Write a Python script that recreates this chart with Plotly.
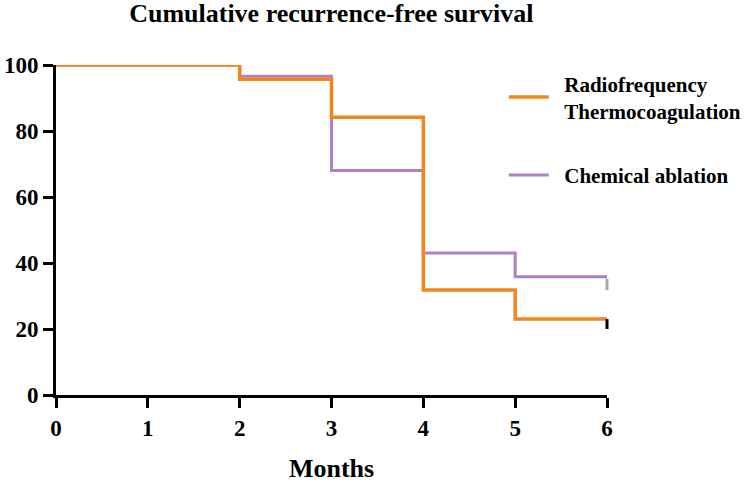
import plotly.graph_objects as go

months = [0, 2, 3, 4, 5, 6]
rf_survival = [100, 95.7, 84.2, 31.8, 23, 23]
chem_survival = [100, 96.6, 68, 43, 35.8, 35.8]
censor_month = [6]
rf_censor = [21.5]
chem_censor = [33.5]
x_ticks = [0, 1, 2, 3, 4, 5, 6]
y_ticks = [0, 20, 40, 60, 80, 100]

FONT = "Liberation Serif"
ORANGE = "#F5841F"
PURPLE = "#B07FC4"
PAD = "&nbsp;&nbsp;"

fig = go.Figure()
fig.add_trace(go.Scatter(x=months, y=chem_survival, mode="lines", line_shape="hv",
                         line=dict(color=PURPLE, width=3),
                         name=f"<b>{PAD}Chemical ablation</b>",
                         legendgroup="b", legendrank=2, cliponaxis=True))
fig.add_trace(go.Scatter(x=months, y=rf_survival, mode="lines", line_shape="hv",
                         line=dict(color=ORANGE, width=3.5),
                         name=f"<b>{PAD}Radiofrequency<br>{PAD}Thermocoagulation</b>",
                         legendgroup="a", legendrank=1, cliponaxis=True))
fig.add_trace(go.Scatter(x=censor_month, y=rf_censor, mode="markers",
                         marker=dict(symbol="line-ns", size=7,
                                     line=dict(color="black", width=3)),
                         showlegend=False, cliponaxis=False))
fig.add_trace(go.Scatter(x=censor_month, y=chem_censor, mode="markers",
                         marker=dict(symbol="line-ns", size=8,
                                     line=dict(color="#A8A8A8", width=3)),
                         showlegend=False, cliponaxis=False))

fig.update_layout(
    width=753, height=483,
    margin=dict(l=56, r=146, t=65, b=88, autoexpand=False),
    plot_bgcolor="white", paper_bgcolor="white",
    font=dict(family=FONT, color="black", size=23),
    title=dict(text="<b>Cumulative recurrence-free survival</b>", x=0.44, xanchor="center",
               y=1 - 13 / 483, yanchor="middle", font=dict(size=26, family=FONT)),
    showlegend=True,
    legend=dict(x=0.669, y=0.869, xref="container", yref="container",
                xanchor="left", yanchor="top", bgcolor="rgba(0,0,0,0)",
                font=dict(size=21, family=FONT), tracegroupgap=34, itemwidth=40,
                traceorder="grouped"),
)
fig.update_xaxes(range=[0, 6], tickvals=x_ticks, ticktext=[f"<b>{v}</b>" for v in x_ticks],
                 showline=True, linecolor="black", linewidth=3, ticks="outside",
                 ticklen=10, tickwidth=3, tickcolor="black", showgrid=False, zeroline=False,
                 ticklabelstandoff=0, automargin=False,
                 title=dict(text="<b>Months</b>", font=dict(size=26, family=FONT), standoff=24))
fig.update_yaxes(range=[0, 100], tickvals=y_ticks, ticktext=[f"<b>{v}</b>" for v in y_ticks],
                 showline=True, linecolor="black", linewidth=3, ticks="outside",
                 ticklen=10, tickwidth=3, tickcolor="black", showgrid=False, zeroline=False,
                 automargin=False)

fig.write_html("out.html", config={"displayModeBar": False},
               post_script="document.body.style.margin='0';")
